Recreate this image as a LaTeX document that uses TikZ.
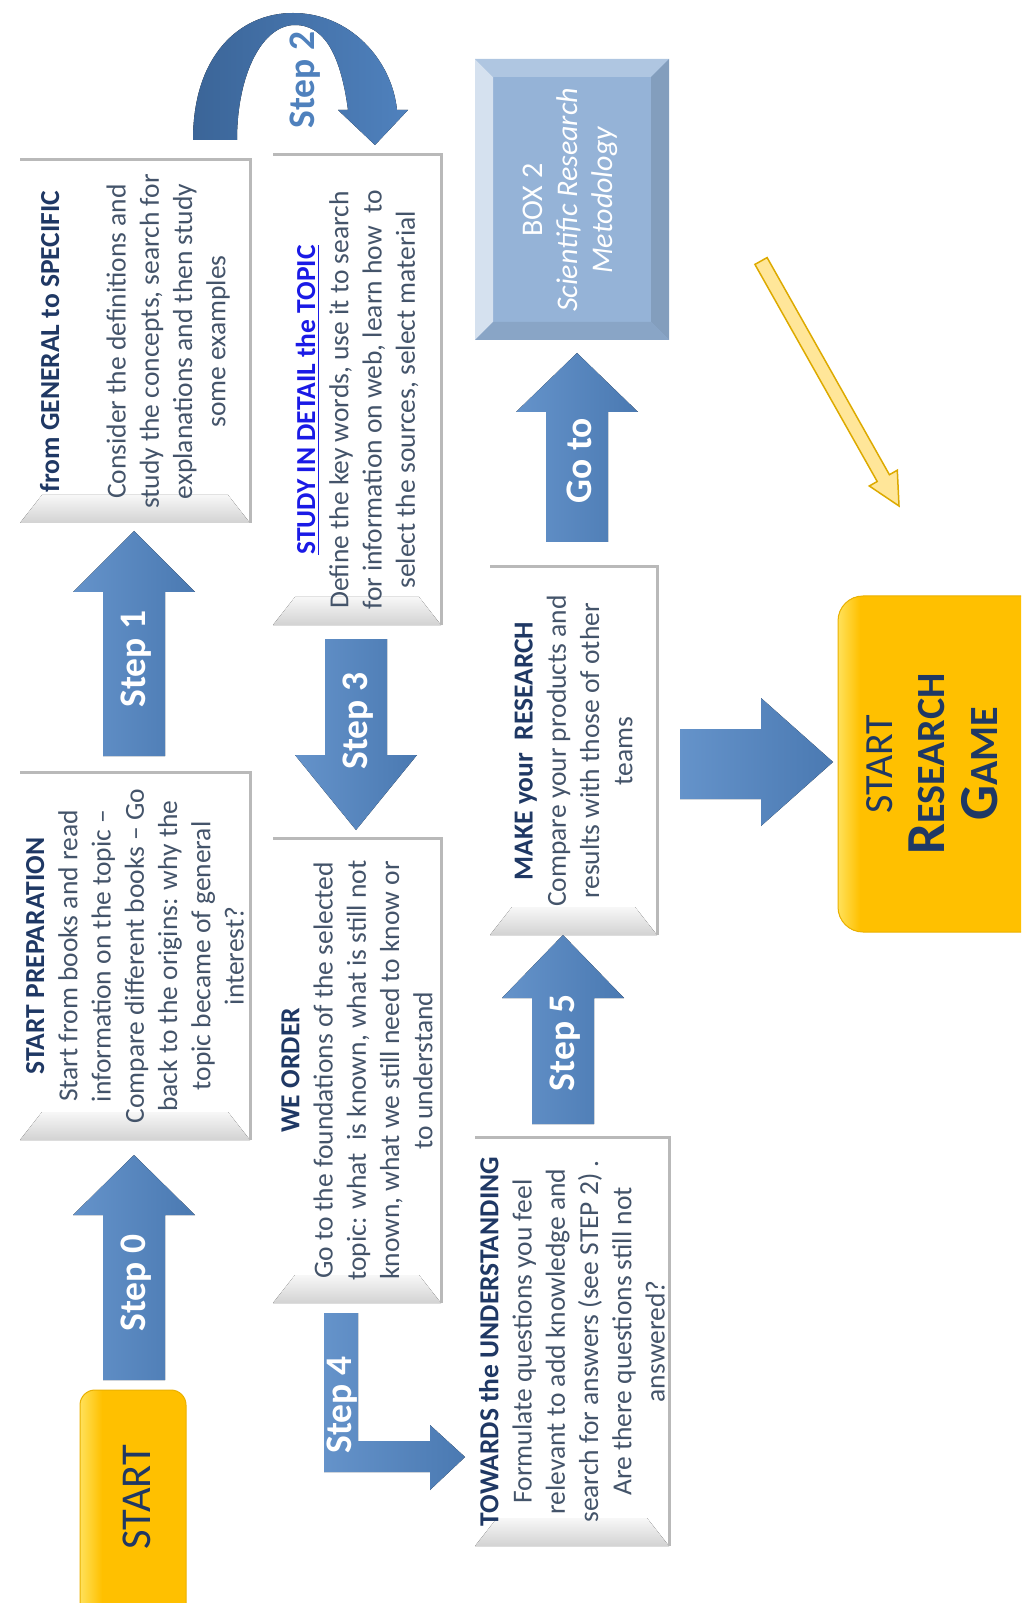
\documentclass[tikz,border=0pt]{standalone}
\usepackage{fontspec}
\setmainfont{Carlito}
\usetikzlibrary{calc}

\definecolor{navy}{HTML}{1F3864}
\definecolor{bodytext}{HTML}{44546A}
\definecolor{linkblue}{HTML}{1A1AE6}
\definecolor{arrowblue}{HTML}{4F81BD}
\definecolor{arrowlight}{HTML}{8DB4E2}
\definecolor{arrowdark}{HTML}{3B6598}
\definecolor{boxblue}{HTML}{95B3D7}
\definecolor{gold}{HTML}{FFC000}
\definecolor{goldlight}{HTML}{FFE15A}
\definecolor{pale}{HTML}{FFE699}
\definecolor{paleline}{HTML}{DDAA00}

\tikzset{
  cardtext/.style={rotate=90, align=center, text=bodytext, inner sep=0pt,
    font=\fontsize{11}{13.3}\selectfont},
  cardedge/.style={draw=gray!55, line width=1.2pt},
  steplabel/.style={rotate=90, text=white, inner sep=0pt,
    font=\fontsize{15}{18}\selectfont\bfseries},
  arrowbody/.style={left color=arrowblue!65!arrowlight, middle color=arrowblue, right color=arrowblue!94!black},
  goldedge/.style={draw=gold!92!black, line width=0.4pt},
}

% white card with grey rim and bevelled foot
\newcommand{\card}[5]{%
  \fill[white] (#2,#3) rectangle (#4,#5);
  \fill[top color=gray!6, bottom color=gray!35] (#2,#5) -- (#2+22,#5-28) -- (#4-22,#5-28) -- (#4,#5) -- cycle;
  \draw[cardedge] (#2,#3) -- (#4,#3) -- (#4,#5);
  \coordinate (#1) at ({(#2+#4)/2},{(#3+#5)/2});
}
% straight block arrow: name, x, tail y, head base y, tip y, label
\newcommand{\blockarrow}[6]{%
  \fill[arrowbody] (#2-31,#3) -- (#2-31,#4) -- (#2-61,#4) -- (#2,#5) -- (#2+61,#4) -- (#2+31,#4) -- (#2+31,#3) -- cycle;
  \node[steplabel] (#1) at (#2+2,{#5+0.57*(#3-#5)}) {#6};
}
% yellow rounded box with a light left rim
\newcommand{\goldbox}[5]{%
  \fill[gold, rounded corners=#5] (#1,#2) rectangle (#3,#4);
  \begin{scope}
    \clip[rounded corners=#5] (#1,#2) rectangle (#3,#4);
    \fill[left color=goldlight, right color=gold] (#1,#2) rectangle (#1+22,#4);
  \end{scope}
  \draw[goldedge, rounded corners=#5] (#1,#2) rectangle (#3,#4);
}

\begin{document}
\begin{tikzpicture}[x=0.4pt,y=-0.4pt]
  \useasboundingbox (0,0) rectangle (1021,1603);

  % cards
  \card{prepc}{20}{772}{250}{1140}
  \card{generalc}{20}{160}{250}{523}
  \card{detailc}{273}{155}{441}{625}
  \card{orderc}{273}{838}{441}{1303}
  \card{towardsc}{475}{1137}{669}{1546}
  \card{researchc}{490}{567}{657}{935}

  \node[cardtext] (prep) at (prepc) {\textbf{\textcolor{navy}{START PREPARATION}}\\Start from books and read\\information on the topic –\\Compare different books – Go\\back to the origins: why the\\topic became of general\\interest?};
  \node[cardtext] (general) at (generalc) {\textbf{\textcolor{navy}{from GENERAL to SPECIFIC}}\\[\baselineskip]Consider the definitions and\\study the concepts, search for\\explanations and then study\\some examples};
  \node[cardtext] (detail) at ([yshift=-4pt]detailc) {\textbf{\textcolor{linkblue}{\underline{STUDY IN DETAIL the TOPIC}}}\\Define the key words, use it to search\\for information on web, learn how\ \ to\\select the sources, select material};
  \node[cardtext] (order) at (orderc) {\textbf{\textcolor{navy}{WE ORDER}}\\Go to the foundations of the selected\\topic: what\ \ is known, what is still not\\known, what we still need to know or\\to understand};
  \node[cardtext] (towards) at (towardsc) {\textbf{\textcolor{navy}{TOWARDS the UNDERSTANDING}}\\Formulate questions you feel\\relevant to add knowledge and\\search for answers (see STEP 2) .\\Are there questions still not\\answered?};
  \node[cardtext] (research) at (researchc) {\textbf{\textcolor{navy}{MAKE your\ \ RESEARCH}}\\Compare your products and\\results with those of other\\teams};

  % box 2
  \fill[boxblue] (475,59) rectangle (669,340);
  \fill[white!60!boxblue] (475,59) -- (493,77) -- (493,322) -- (475,340) -- cycle;
  \fill[white!25!boxblue] (475,59) -- (669,59) -- (651,77) -- (493,77) -- cycle;
  \fill[boxblue!88!black] (669,59) -- (669,340) -- (651,322) -- (651,77) -- cycle;
  \fill[boxblue!92!black] (475,340) -- (669,340) -- (651,322) -- (493,322) -- cycle;
  \node[cardtext, text=white, font=\fontsize{12}{14}\selectfont] (boxtwo) at (570,200) {BOX 2\\\textit{Scientific Research}\\\textit{Metodology}};

  % start boxes
  \begin{scope}
    \clip (0,0) rectangle (1021,1603);
    \goldbox{80}{1390}{186}{1650}{6pt}
    \goldbox{838}{596}{1060}{932}{10pt}
  \end{scope}
  \node[rotate=90, text=navy, inner sep=0pt, font=\fontsize{17}{20}\selectfont] (start) at (137,1497) {START};
  \node[rotate=90, text=navy, inner sep=0pt, align=center, font=\fontsize{16}{21}\selectfont] (game) at (932,764)
    {START\\{\bfseries\fontsize{22}{21}\selectfont R\fontsize{16}{21}\selectfont ESEARCH}\\{\bfseries\fontsize{22}{21}\selectfont G\fontsize{16}{21}\selectfont AME}};

  % steps
  \blockarrow{stepzero}{134}{1380}{1215}{1155}{Step 0}
  \blockarrow{stepone}{134}{756}{592}{531}{Step 1}
  \blockarrow{stepthree}{356}{639}{755}{830}{Step 3}
  \blockarrow{stepfive}{563}{1124}{998}{935}{Step 5}
  \blockarrow{goto}{577}{542}{412}{353}{Go to}

  % step 2 bow
  \fill[left color=arrowdark, right color=arrowblue]
    (193,140) .. controls (193,55) and (240,13) .. (293,13)
    .. controls (350,13) and (392,60) .. (397,110)
    -- (408,110) -- (375,145) -- (338,110) -- (348,110)
    .. controls (340,50) and (322,25) .. (295,25)
    .. controls (262,25) and (237,75) .. (237,140) -- cycle;
  \node[rotate=90, text=arrowblue, inner sep=0pt, font=\fontsize{15}{18}\selectfont\bfseries] (steptwo) at (305,80) {Step 2};

  % step 4 elbow
  \fill[arrowbody] (324,1313) -- (358,1313) -- (358,1441) -- (430,1441) -- (430,1425)
    -- (465,1457) -- (430,1490) -- (430,1472) -- (324,1472) -- cycle;
  \node[steplabel] (stepfour) at (342,1405) {Step 4};

  % into the game
  \fill[arrowbody] (680,729) -- (761,729) -- (761,698) -- (833,762) -- (761,826) -- (761,799) -- (680,799) -- cycle;

  % yellow pointer
  \filldraw[fill=pale, draw=paleline, line width=0.6pt] (754.9,264.4) -- (767.1,257.6) -- (889.4,474.7) -- (897.3,470.2)
    -- (899,506) -- (869.3,486.0) -- (877.2,481.5) -- cycle;
\end{tikzpicture}
\end{document}
